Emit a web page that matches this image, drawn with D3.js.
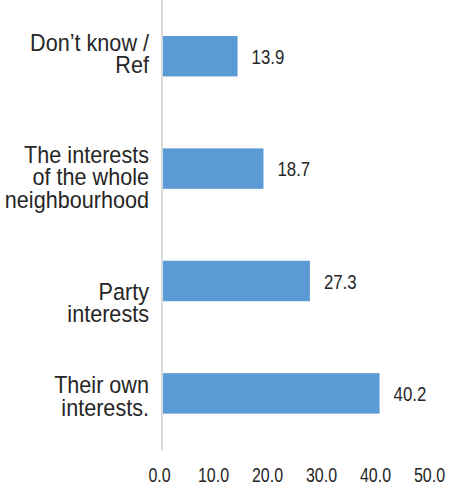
<!DOCTYPE html>
<html>
<head>
<meta charset="utf-8">
<script src="https://cdn.jsdelivr.net/npm/d3@7/dist/d3.min.js"></script>
<style>
  html, body { margin: 0; padding: 0; background: #ffffff; }
  svg { display: block; }
</style>
</head>
<body>
<svg id="chart" width="449" height="485"></svg>
<script>
// Categories, top to bottom, with their label line breaks
const categories = [
  "Don’t know /\nRef",
  "The interests\nof the whole\nneighbourhood",
  "Party\ninterests",
  "Their own\ninterests."
];
const values = [13.9, 18.7, 27.3, 40.2];
const tickValues = [0, 10, 20, 30, 40, 50];
const tickLabels = ["0.0", "10.0", "20.0", "30.0", "40.0", "50.0"];

// Vertical nudge of each category label block (layout only)
const labelShift = [-2.5, 8.4, 22, 2.7];

const svg = d3.select("#chart");
const textColor = "#262626";
const barColor = "#5b9bd5";
const fontFamily = "'Liberation Sans', Arial, sans-serif";

const x = d3.scaleLinear().domain([0, 50]).range([162.5, 432.5]);
const y = d3.scaleBand()
  .domain(categories)
  .range([0, 449.6])
  .paddingInner(0.64)
  .paddingOuter(0.32);

// Bars
svg.append("g").selectAll("rect")
  .data(values)
  .join("rect")
  .attr("x", x(0))
  .attr("y", (d, i) => y(categories[i]))
  .attr("width", d => x(d) - x(0))
  .attr("height", y.bandwidth())
  .attr("fill", barColor);

// Vertical axis line
svg.append("line")
  .attr("x1", 162).attr("x2", 162)
  .attr("y1", 0).attr("y2", 450)
  .attr("stroke", "#d9d9d9")
  .attr("stroke-width", 2);

// Value labels (condensed)
svg.append("g").selectAll("g")
  .data(values)
  .join("g")
  .attr("transform", (d, i) =>
    `translate(${x(d) + 14},${y(categories[i]) + y.bandwidth() / 2}) scale(0.8,1)`)
  .append("text")
  .attr("dy", "0.36em")
  .attr("font-family", fontFamily)
  .attr("font-size", 21)
  .attr("fill", textColor)
  .text(d => d.toFixed(1));

// Category labels, right-aligned, slightly condensed
const lineH = 22.5;
const catFont = 23.5;
const catG = svg.append("g");
categories.forEach((c, i) => {
  const lines = c.split("\n");
  const cy = y(c) + y.bandwidth() / 2;
  const firstBase = cy - (lines.length - 1) * lineH / 2 + 0.35 * catFont + labelShift[i];
  catG.append("g")
    .attr("transform", `translate(149,${firstBase}) scale(0.92,1)`)
    .append("text")
    .attr("text-anchor", "end")
    .attr("font-family", fontFamily)
    .attr("font-size", catFont)
    .attr("fill", textColor)
    .selectAll("tspan")
    .data(lines)
    .join("tspan")
    .attr("x", 0)
    .attr("y", (d, j) => j * lineH)
    .text(d => d);
});

// Horizontal value axis (labels only, condensed)
const xAxis = d3.axisBottom(x)
  .tickValues(tickValues)
  .tickFormat((d, i) => tickLabels[i])
  .tickSize(0)
  .tickPadding(0);
const ax = svg.append("g")
  .attr("transform", "translate(-3,468)")
  .call(xAxis);
ax.select(".domain").remove();
ax.selectAll(".tick")
  .attr("transform", d => `translate(${x(d)},0) scale(0.82,1)`);
ax.selectAll("text")
  .attr("font-family", fontFamily)
  .attr("font-size", 19.5)
  .attr("fill", textColor)
  .attr("dy", "0.71em");
</script>
</body>
</html>
